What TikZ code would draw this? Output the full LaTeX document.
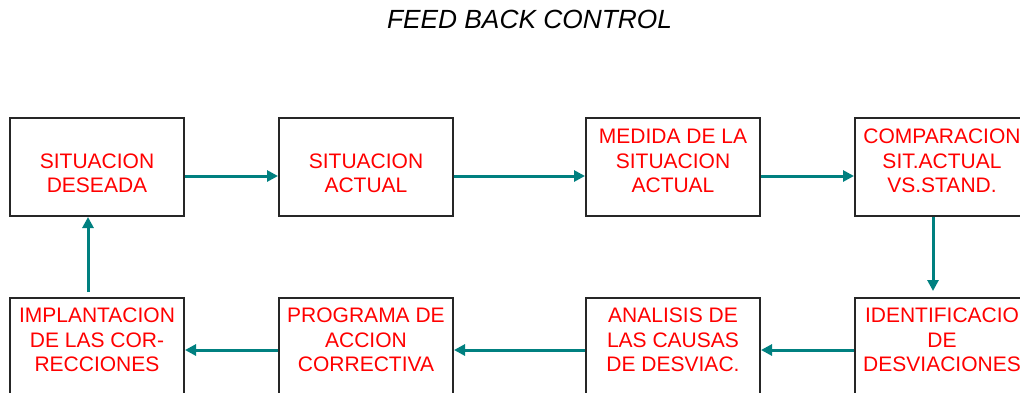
\documentclass[tikz,border=0pt]{standalone}
\usepackage{fontspec}
\setmainfont{Liberation Sans}
\usetikzlibrary{arrows.meta, positioning}
\definecolor{flowteal}{RGB}{0,128,128}
\tikzset{
  box/.style = {
    draw=black!85,
    line width=2pt,
    minimum width=174pt,
    minimum height=98pt,
    inner sep=0pt
  },
  boxtext/.style = {
    text=red,
    align=center,
    inner sep=0pt,
    font=\fontsize{21}{24.5}\selectfont
  },
  flow/.style = {
    draw=flowteal,
    line width=3pt,
    -{Triangle[length=11pt,width=11pt]}
  }
}

\begin{document}
\begin{tikzpicture}[x=1pt,y=-1pt]

      \clip (0,0) rectangle (1020,392);

      \node[anchor=base, font=\fontsize{26.3}{30}\selectfont\itshape] (title) at (529.5,28) {FEED BACK CONTROL};

      % top row
      \node[box] (sd) at (97,167) {};
      \node[box] (sa) at (366,167) {};
      \node[box] (msa) at (673,167) {};
      \node[box] (comp) at (942,167) {};

      % bottom row
      \node[box] (impl) at (97,347) {};
      \node[box] (pac) at (366,347) {};
      \node[box] (acau) at (673,347) {};
      \node[box] (idev) at (942,347) {};

      \node[boxtext, above=24pt of sd.south] (sdt) {SITUACION\\DESEADA};
      \node[boxtext, above=24pt of sa.south] (sat) {SITUACION\\ACTUAL};
      \node[boxtext, above=24pt of msa.south] (msat) {MEDIDA DE LA\\SITUACION\\ACTUAL};
      \node[boxtext, above=24pt of comp.south] (compt) {COMPARACION\\SIT.ACTUAL\\VS.STAND.};
      \node[boxtext, above=25pt of impl.south] (implt) {IMPLANTACION\\DE LAS COR-\\RECCIONES};
      \node[boxtext, above=25pt of pac.south] (pact) {PROGRAMA DE\\ACCION\\CORRECTIVA};
      \node[boxtext, above=25pt of acau.south] (acaut) {ANALISIS DE\\LAS CAUSAS\\DE DESVIAC.};
      \node[boxtext, above=25pt of idev.south] (idevt) {IDENTIFICACIO\\DE\\DESVIACIONES};

      \draw[flow] ([yshift=-9pt]sd.east) -- ([yshift=-9pt]sa.west);
      \draw[flow] ([yshift=-9pt]sa.east) -- ([yshift=-9pt]msa.west);
      \draw[flow] ([yshift=-9pt]msa.east) -- ([yshift=-9pt]comp.west);
      \draw[flow, shorten >=6pt] ([xshift=-9pt]comp.south) -- ([xshift=-9pt]idev.north);
      \draw[flow] ([yshift=-3pt]idev.west) -- ([yshift=-3pt]acau.east);
      \draw[flow] ([yshift=-3pt]acau.west) -- ([yshift=-3pt]pac.east);
      \draw[flow] ([yshift=-3pt]pac.west) -- ([yshift=-3pt]impl.east);
      \draw[flow, shorten <=5pt] ([xshift=-9pt]impl.north) -- ([xshift=-9pt]sd.south);
    \end{tikzpicture}
\end{document}
